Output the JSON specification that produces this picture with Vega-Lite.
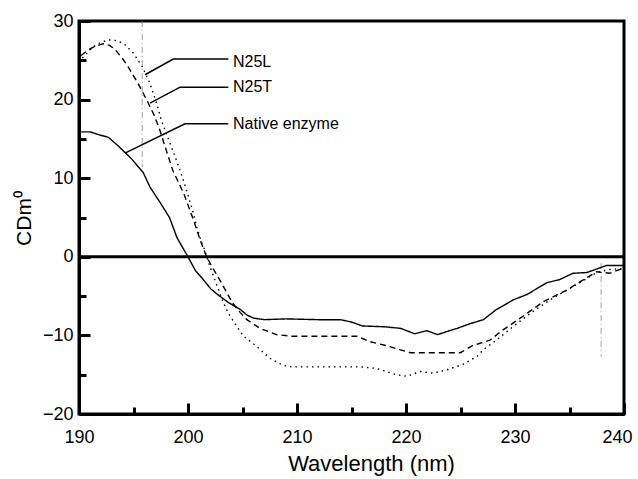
{
  "$schema": "https://vega.github.io/schema/vega-lite/v6.json",
  "width": 545,
  "height": 393,
  "autosize": {"type": "none"},
  "padding": {"left": 79, "top": 21, "right": 14, "bottom": 65},
  "background": "white",
  "config": {
    "view": {"stroke": "black", "strokeWidth": 3},
    "font": "Liberation Sans",
    "axis": {"grid": false}
  },
  "datasets": {
    "curves": [
      {"series": "Native enzyme", "x": 190.2, "y": 15.9},
      {"series": "Native enzyme", "x": 191.0, "y": 15.9},
      {"series": "Native enzyme", "x": 191.9, "y": 15.5},
      {"series": "Native enzyme", "x": 192.7, "y": 15.2},
      {"series": "Native enzyme", "x": 193.6, "y": 14.1},
      {"series": "Native enzyme", "x": 194.8, "y": 12.5},
      {"series": "Native enzyme", "x": 195.9, "y": 10.7},
      {"series": "Native enzyme", "x": 196.5, "y": 8.9},
      {"series": "Native enzyme", "x": 197.4, "y": 7.0},
      {"series": "Native enzyme", "x": 198.3, "y": 5.0},
      {"series": "Native enzyme", "x": 199.0, "y": 2.4},
      {"series": "Native enzyme", "x": 200.0, "y": 0.0},
      {"series": "Native enzyme", "x": 200.7, "y": -1.8},
      {"series": "Native enzyme", "x": 201.4, "y": -2.9},
      {"series": "Native enzyme", "x": 202.1, "y": -4.1},
      {"series": "Native enzyme", "x": 202.9, "y": -5.0},
      {"series": "Native enzyme", "x": 203.8, "y": -5.9},
      {"series": "Native enzyme", "x": 204.8, "y": -6.7},
      {"series": "Native enzyme", "x": 205.4, "y": -7.4},
      {"series": "Native enzyme", "x": 206.0, "y": -7.8},
      {"series": "Native enzyme", "x": 207.0, "y": -8.0},
      {"series": "Native enzyme", "x": 209.0, "y": -7.9},
      {"series": "Native enzyme", "x": 212.0, "y": -8.0},
      {"series": "Native enzyme", "x": 214.0, "y": -8.0},
      {"series": "Native enzyme", "x": 215.0, "y": -8.3},
      {"series": "Native enzyme", "x": 216.0, "y": -8.8},
      {"series": "Native enzyme", "x": 218.0, "y": -8.9},
      {"series": "Native enzyme", "x": 219.5, "y": -9.1},
      {"series": "Native enzyme", "x": 220.8, "y": -9.8},
      {"series": "Native enzyme", "x": 221.9, "y": -9.4},
      {"series": "Native enzyme", "x": 222.9, "y": -9.9},
      {"series": "Native enzyme", "x": 224.0, "y": -9.4},
      {"series": "Native enzyme", "x": 224.7, "y": -9.1},
      {"series": "Native enzyme", "x": 225.9, "y": -8.5},
      {"series": "Native enzyme", "x": 227.1, "y": -8.0},
      {"series": "Native enzyme", "x": 228.3, "y": -6.7},
      {"series": "Native enzyme", "x": 229.8, "y": -5.5},
      {"series": "Native enzyme", "x": 231.1, "y": -4.8},
      {"series": "Native enzyme", "x": 232.9, "y": -3.3},
      {"series": "Native enzyme", "x": 234.1, "y": -2.9},
      {"series": "Native enzyme", "x": 235.3, "y": -2.1},
      {"series": "Native enzyme", "x": 236.6, "y": -2.0},
      {"series": "Native enzyme", "x": 237.8, "y": -1.4},
      {"series": "Native enzyme", "x": 238.4, "y": -1.1},
      {"series": "Native enzyme", "x": 240.0, "y": -1.1},
      {"series": "N25T", "x": 190.2, "y": 25.6},
      {"series": "N25T", "x": 190.8, "y": 26.3},
      {"series": "N25T", "x": 191.5, "y": 26.8},
      {"series": "N25T", "x": 192.2, "y": 27.1},
      {"series": "N25T", "x": 192.8, "y": 26.9},
      {"series": "N25T", "x": 193.3, "y": 26.4},
      {"series": "N25T", "x": 194.0, "y": 25.2},
      {"series": "N25T", "x": 194.5, "y": 24.2},
      {"series": "N25T", "x": 195.4, "y": 22.1},
      {"series": "N25T", "x": 196.2, "y": 20.0},
      {"series": "N25T", "x": 196.9, "y": 18.0},
      {"series": "N25T", "x": 197.4, "y": 16.2},
      {"series": "N25T", "x": 197.9, "y": 14.0},
      {"series": "N25T", "x": 198.6, "y": 11.0},
      {"series": "N25T", "x": 199.6, "y": 8.1},
      {"series": "N25T", "x": 200.5, "y": 4.7},
      {"series": "N25T", "x": 201.1, "y": 2.2},
      {"series": "N25T", "x": 201.7, "y": 0.0},
      {"series": "N25T", "x": 202.3, "y": -1.5},
      {"series": "N25T", "x": 202.9, "y": -2.9},
      {"series": "N25T", "x": 203.5, "y": -4.4},
      {"series": "N25T", "x": 204.1, "y": -5.9},
      {"series": "N25T", "x": 204.8, "y": -7.1},
      {"series": "N25T", "x": 205.4, "y": -8.0},
      {"series": "N25T", "x": 206.6, "y": -9.1},
      {"series": "N25T", "x": 208.1, "y": -9.9},
      {"series": "N25T", "x": 209.5, "y": -10.1},
      {"series": "N25T", "x": 212.0, "y": -10.1},
      {"series": "N25T", "x": 215.5, "y": -10.1},
      {"series": "N25T", "x": 216.7, "y": -10.8},
      {"series": "N25T", "x": 218.2, "y": -11.3},
      {"series": "N25T", "x": 219.4, "y": -11.8},
      {"series": "N25T", "x": 220.4, "y": -12.2},
      {"series": "N25T", "x": 222.0, "y": -12.2},
      {"series": "N25T", "x": 225.0, "y": -12.2},
      {"series": "N25T", "x": 226.1, "y": -11.3},
      {"series": "N25T", "x": 227.7, "y": -10.6},
      {"series": "N25T", "x": 228.9, "y": -9.3},
      {"series": "N25T", "x": 230.7, "y": -7.6},
      {"series": "N25T", "x": 232.6, "y": -5.7},
      {"series": "N25T", "x": 234.8, "y": -4.2},
      {"series": "N25T", "x": 236.3, "y": -2.9},
      {"series": "N25T", "x": 237.5, "y": -1.9},
      {"series": "N25T", "x": 238.7, "y": -2.1},
      {"series": "N25T", "x": 240.0, "y": -1.4},
      {"series": "N25L", "x": 190.3, "y": 25.3},
      {"series": "N25L", "x": 190.8, "y": 26.0},
      {"series": "N25L", "x": 191.3, "y": 26.7},
      {"series": "N25L", "x": 192.0, "y": 27.3},
      {"series": "N25L", "x": 192.8, "y": 27.6},
      {"series": "N25L", "x": 193.5, "y": 27.5},
      {"series": "N25L", "x": 194.2, "y": 27.0},
      {"series": "N25L", "x": 195.0, "y": 25.9},
      {"series": "N25L", "x": 195.8, "y": 24.2},
      {"series": "N25L", "x": 196.5, "y": 22.1},
      {"series": "N25L", "x": 197.1, "y": 19.6},
      {"series": "N25L", "x": 197.6, "y": 17.2},
      {"series": "N25L", "x": 198.2, "y": 15.0},
      {"series": "N25L", "x": 198.8, "y": 12.8},
      {"series": "N25L", "x": 199.4, "y": 10.5},
      {"series": "N25L", "x": 199.9, "y": 8.3},
      {"series": "N25L", "x": 200.4, "y": 6.0},
      {"series": "N25L", "x": 200.8, "y": 3.8},
      {"series": "N25L", "x": 201.2, "y": 2.0},
      {"series": "N25L", "x": 201.6, "y": 0.6},
      {"series": "N25L", "x": 202.0, "y": -1.2},
      {"series": "N25L", "x": 202.4, "y": -2.7},
      {"series": "N25L", "x": 202.8, "y": -4.2},
      {"series": "N25L", "x": 203.2, "y": -5.7},
      {"series": "N25L", "x": 203.7, "y": -7.2},
      {"series": "N25L", "x": 204.4, "y": -8.7},
      {"series": "N25L", "x": 205.1, "y": -10.1},
      {"series": "N25L", "x": 206.3, "y": -11.4},
      {"series": "N25L", "x": 207.5, "y": -12.9},
      {"series": "N25L", "x": 208.7, "y": -13.8},
      {"series": "N25L", "x": 209.5, "y": -14.0},
      {"series": "N25L", "x": 212.0, "y": -14.0},
      {"series": "N25L", "x": 215.8, "y": -14.0},
      {"series": "N25L", "x": 217.3, "y": -14.2},
      {"series": "N25L", "x": 219.1, "y": -15.0},
      {"series": "N25L", "x": 220.1, "y": -15.2},
      {"series": "N25L", "x": 221.3, "y": -14.6},
      {"series": "N25L", "x": 222.5, "y": -14.8},
      {"series": "N25L", "x": 223.7, "y": -14.4},
      {"series": "N25L", "x": 225.2, "y": -13.7},
      {"series": "N25L", "x": 226.5, "y": -12.7},
      {"series": "N25L", "x": 227.1, "y": -11.8},
      {"series": "N25L", "x": 228.3, "y": -10.6},
      {"series": "N25L", "x": 229.8, "y": -8.9},
      {"series": "N25L", "x": 231.4, "y": -7.2},
      {"series": "N25L", "x": 233.2, "y": -5.5},
      {"series": "N25L", "x": 234.8, "y": -4.2},
      {"series": "N25L", "x": 236.3, "y": -3.0},
      {"series": "N25L", "x": 237.5, "y": -2.0},
      {"series": "N25L", "x": 238.7, "y": -1.6},
      {"series": "N25L", "x": 240.0, "y": -1.5}
    ],
    "leaders": [
      {"label": "N25L", "order": 1, "x": 196.06, "y": 23.16},
      {"label": "N25L", "order": 2, "x": 198.65, "y": 25.15},
      {"label": "N25L", "order": 3, "x": 203.7, "y": 25.15},
      {"label": "N25T", "order": 1, "x": 196.51, "y": 19.55},
      {"label": "N25T", "order": 2, "x": 199.27, "y": 21.58},
      {"label": "N25T", "order": 3, "x": 203.7, "y": 21.58},
      {"label": "Native enzyme", "order": 1, "x": 194.22, "y": 13.19},
      {"label": "Native enzyme", "order": 2, "x": 199.72, "y": 16.92},
      {"label": "Native enzyme", "order": 3, "x": 203.7, "y": 16.92}
    ],
    "labels": [
      {"text": "N25L", "x": 204.13, "y": 24.8},
      {"text": "N25T", "x": 204.13, "y": 21.6},
      {"text": "Native enzyme", "x": 204.13, "y": 16.9}
    ],
    "zero": [{"x": 190, "x2": 240, "y": 0}],
    "marks": [
      {"x": 195.8, "y": 30, "y2": 11.4},
      {"x": 237.9, "y": -0.8, "y2": -12.7}
    ],
    "anchor": [{"x": 190, "y": -20}]
  },
  "layer": [
    {
      "encoding": {
        "x": {
          "field": "x", "type": "quantitative",
          "scale": {"domain": [190, 240], "nice": false, "zero": false},
          "axis": null
        },
        "y": {
          "field": "y", "type": "quantitative",
          "scale": {"domain": [-20, 30], "nice": false, "zero": false},
          "axis": null
        }
      },
      "layer": [
        {
          "data": {"name": "marks"},
          "mark": {"type": "rule", "color": "#777777", "strokeWidth": 0.7, "strokeDash": [6, 3, 1, 3]},
          "encoding": {"y2": {"field": "y2"}}
        },
        {
          "data": {"name": "zero"},
          "mark": {"type": "rule", "color": "black", "strokeWidth": 3},
          "encoding": {"x2": {"field": "x2"}}
        },
        {
          "data": {"name": "curves"},
          "mark": {"type": "line", "color": "black", "strokeWidth": 1.4, "clip": true},
          "encoding": {
            "detail": {"field": "series"},
            "strokeDash": {
              "field": "series", "type": "nominal",
              "scale": {"domain": ["Native enzyme", "N25T", "N25L"], "range": [[1, 0], [6, 4], [1.5, 4]]},
              "legend": null
            }
          }
        },
        {
          "data": {"name": "leaders"},
          "mark": {"type": "line", "color": "black", "strokeWidth": 1.5},
          "encoding": {"detail": {"field": "label"}, "order": {"field": "order"}}
        },
        {
          "data": {"name": "labels"},
          "mark": {"type": "text", "align": "left", "baseline": "middle", "fontSize": 16, "font": "Liberation Sans", "color": "black"},
          "encoding": {"text": {"field": "text"}}
        }
      ]
    },
    {
      "data": {"name": "anchor"},
      "mark": {"type": "point", "opacity": 0},
      "encoding": {
        "x": {
          "field": "x", "type": "quantitative",
          "scale": {"domain": [190, 240], "nice": false, "zero": false},
          "axis": {
            "orient": "bottom",
            "values": [190, 200, 210, 220, 230, 240],
            "tickSize": -11, "tickWidth": 3, "tickColor": "#000000",
            "domainColor": "black", "domainWidth": 3,
            "labelFontSize": 18, "labelColor": "black", "labelPadding": 25,
            "labelOffset": {"condition": {"test": "datum.value == 240", "value": -7}, "value": 0},
            "labelFlush": false, "labelOverlap": false,
            "title": "Wavelength (nm)", "titleFont": "Liberation Sans",
            "titleFontSize": 22, "titleFontWeight": "normal", "titleColor": "black",
            "titleX": 292, "titleY": 56, "titleBaseline": "alphabetic", "titleAlign": "center"
          }
        },
        "y": {
          "field": "y", "type": "quantitative",
          "scale": {"domain": [-20, 30], "nice": false, "zero": false},
          "axis": {
            "orient": "left",
            "values": [-20, -10, 0, 10, 20, 30],
            "tickSize": -11, "tickWidth": 3, "tickColor": "#000000",
            "domainColor": "black", "domainWidth": 3,
            "labelFontSize": 18, "labelColor": "black", "labelPadding": 17,
            "labelFlush": false, "labelOverlap": false,
            "title": "CDm⁰", "titleFont": "Liberation Sans",
            "titleFontSize": 21, "titleFontWeight": "normal", "titleColor": "black",
            "titleX": -55, "titleY": 197, "titleAngle": -90,
            "titleBaseline": "middle", "titleAlign": "center"
          }
        }
      }
    },
    {
      "data": {"name": "anchor"},
      "mark": {"type": "point", "opacity": 0},
      "encoding": {
        "x": {
          "field": "x", "type": "quantitative",
          "scale": {"domain": [190, 240], "nice": false, "zero": false},
          "axis": {
            "orient": "bottom", "values": [195, 205, 215, 225, 235],
            "tickSize": -7, "tickWidth": 3, "tickColor": "#000000",
            "labels": false, "domain": false, "title": null
          }
        },
        "y": {
          "field": "y", "type": "quantitative",
          "scale": {"domain": [-20, 30], "nice": false, "zero": false},
          "axis": {
            "orient": "left", "values": [-15, -5, 5, 15, 25],
            "tickSize": -7, "tickWidth": 3, "tickColor": "#000000",
            "labels": false, "domain": false, "title": null
          }
        }
      }
    }
  ],
  "resolve": {"axis": {"x": "independent", "y": "independent"}}
}
